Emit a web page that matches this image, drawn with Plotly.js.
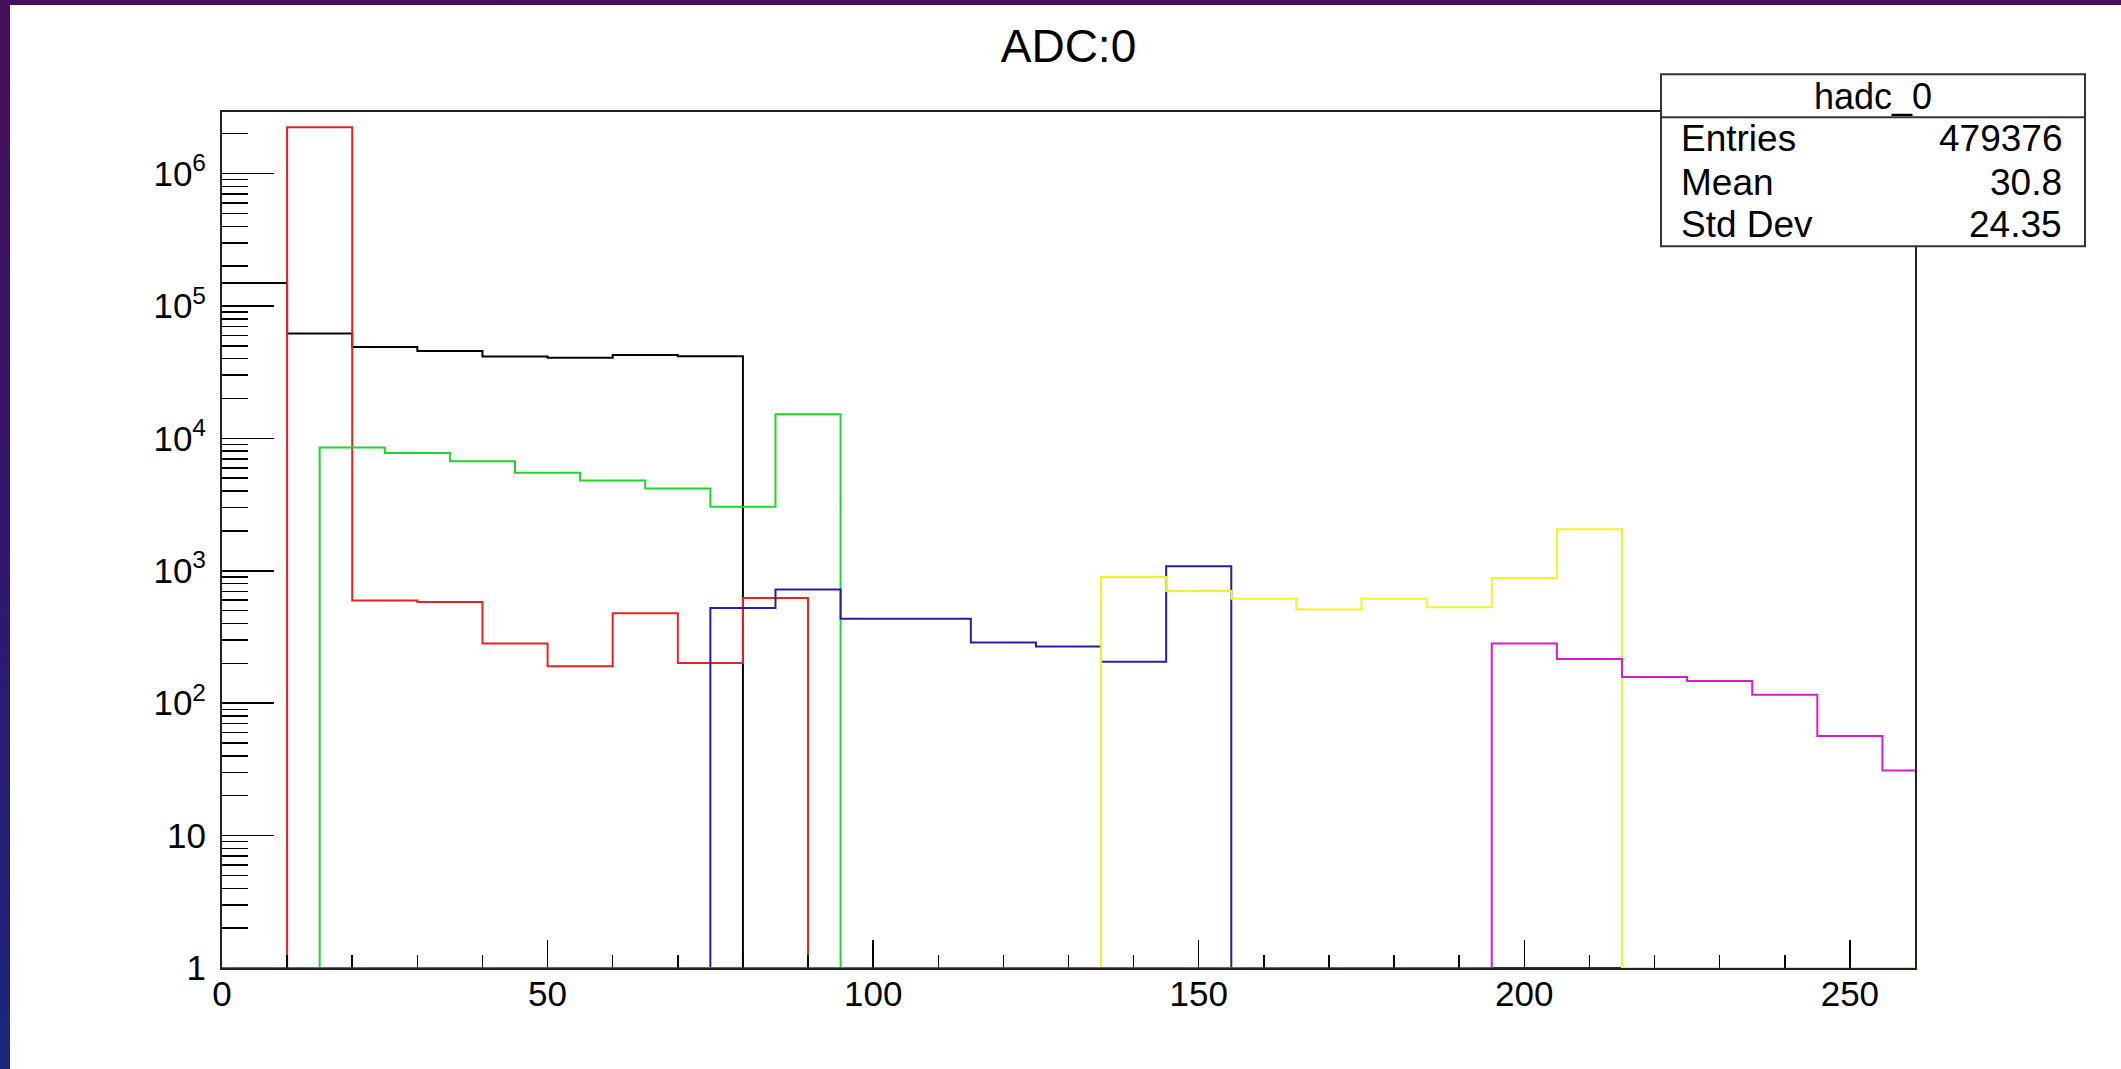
<!DOCTYPE html>
<html>
<head>
<meta charset="utf-8">
<script src="https://cdn.plot.ly/plotly-3.0.1.min.js"></script>
<style>
  html, body { margin: 0; padding: 0; }
  body {
    width: 2121px; height: 1069px; overflow: hidden; position: relative;
    background: linear-gradient(to bottom, #46105a 0%, #3a1466 35%, #2a1c72 65%, #1b2676 100%);
  }
  #chart { position: absolute; left: 10px; top: 5px; width: 2111px; height: 1064px; background: #ffffff; }
</style>
</head>
<body>
<div id="chart"></div>
<script>
// ---- data (bin edges and bin contents) ----
const blackEdges   = [0, 10, 20, 30, 40, 50, 60, 70, 80, 260];
const blackCounts  = [149000, 61900, 49000, 45700, 41500, 40700, 42700, 41700, 0];

const redEdges     = [0, 10, 20, 30, 40, 50, 60, 70, 80, 90, 260];
const redCounts    = [0, 2240000, 596, 582, 282, 190, 478, 201, 623, 0];

const greenEdges   = [0, 15, 25, 35, 45, 55, 65, 75, 85, 95, 260];
const greenCounts  = [0, 8520, 7760, 6710, 5510, 4800, 4180, 3050, 15200, 0];

const blueEdges    = [0, 75, 85, 95, 105, 115, 125, 135, 145, 155, 260];
const blueCounts   = [0, 524, 721, 435, 435, 287, 268, 206, 1082, 0];

const yellowEdges  = [0, 135, 145, 155, 165, 175, 185, 195, 205, 215, 260];
const yellowCounts = [0, 898, 704, 616, 509, 616, 530, 883, 2057, 0];

const magentaEdges  = [0, 195, 205, 215, 225, 235, 245, 255, 260];
const magentaCounts = [0, 282, 216, 158, 147, 116, 56.5, 31];

const xTickVals = [0, 50, 100, 150, 200, 250];
const yTickVals = [1, 10, 100, 1000, 10000, 100000, 1000000];
const yTickText = ['1', '10', '10<sup>2</sup>', '10<sup>3</sup>', '10<sup>4</sup>', '10<sup>5</sup>', '10<sup>6</sup>'];

const chartTitle = 'ADC:0';
const statsTitle = 'hadc_0';
const statNames  = ['Entries', 'Mean', 'Std Dev'];
const statValues = ['479376', '30.8', '24.35'];

// ---- build ----
const FONT = '"Liberation Sans", Arial, Helvetica, sans-serif';
const yMin = 1; // log-axis floor: empty bins sit on the frame bottom

function stepTrace(edges, counts, color) {
  const x = edges.slice();
  const y = counts.map(v => (v > 0 ? v : yMin));
  y.push(y[y.length - 1]);
  return {
    type: 'scatter', mode: 'lines', x: x, y: y,
    line: { shape: 'hv', color: color, width: 2 },
    hoverinfo: 'skip', showlegend: false
  };
}

const traces = [
  stepTrace(blackEdges, blackCounts, '#000000'),
  stepTrace(redEdges, redCounts, '#e0261e'),
  stepTrace(greenEdges, greenCounts, '#1fd62a'),
  stepTrace(blueEdges, blueCounts, '#2a1ca6'),
  stepTrace(yellowEdges, yellowCounts, '#f2f22a'),
  stepTrace(magentaEdges, magentaCounts, '#d21ed2')
];

// pixel helpers (full-image coordinates -> plot paper fraction)
const PL = 221.9, PW = 1693.1, PB = 967.7, PH = 856;
const px = X => (X - PL) / PW;
const py = Y => (PB - Y) / PH;

const boxL = 1661, boxR = 2085, boxT = 74, boxB = 246, boxDiv = 117;
const rowY = [138.5, 181.7, 224];

const annotations = [{
  xref: 'paper', yref: 'paper', x: px((boxL + boxR) / 2), y: py(96),
  text: statsTitle, showarrow: false, xanchor: 'center', yanchor: 'middle',
  font: { family: FONT, size: 36, color: '#000' }
}];
statNames.forEach((n, i) => {
  annotations.push({
    xref: 'paper', yref: 'paper', x: px(1679), y: py(rowY[i]),
    text: n, showarrow: false, xanchor: 'left', yanchor: 'middle',
    font: { family: FONT, size: 37, color: '#000' }
  });
  annotations.push({
    xref: 'paper', yref: 'paper', x: px(2064), y: py(rowY[i]),
    text: statValues[i], showarrow: false, xanchor: 'right', yanchor: 'middle',
    font: { family: FONT, size: 37, color: '#000' }
  });
});

const layout = {
  width: 2111, height: 1064,
  margin: { l: 212, r: 206, t: 107, b: 101, pad: 0 },
  paper_bgcolor: '#ffffff', plot_bgcolor: '#ffffff',
  showlegend: false,
  title: {
    text: chartTitle, x: 0.5, xref: 'paper', xanchor: 'center',
    y: 0.962, yref: 'container', yanchor: 'middle',
    font: { family: FONT, size: 46, color: '#000' }
  },
  xaxis: {
    range: [0, 260], type: 'linear',
    tickvals: xTickVals, ticktext: xTickVals.map(String),
    ticks: 'inside', ticklen: 28, tickwidth: 1.5, tickcolor: '#000',
    minor: { dtick: 10, tick0: 0, ticks: 'inside', ticklen: 13, tickwidth: 1.5, tickcolor: '#000', showgrid: false },
    showline: true, linecolor: '#222', linewidth: 2, mirror: true,
    showgrid: false, zeroline: false,
    ticklabelstandoff: -6,
    tickfont: { family: FONT, size: 35, color: '#000' }
  },
  yaxis: {
    type: 'log', range: [0, 6.465],
    tickvals: yTickVals, ticktext: yTickText,
    ticks: 'inside', ticklen: 52, tickwidth: 1.5, tickcolor: '#000',
    minor: { dtick: 'D1', ticks: 'inside', ticklen: 26, tickwidth: 1.5, tickcolor: '#000', showgrid: false },
    showline: true, linecolor: '#222', linewidth: 2, mirror: true,
    showgrid: false, zeroline: false,
    ticklabelstandoff: 7,
    tickfont: { family: FONT, size: 35, color: '#000' }
  },
  shapes: [
    { type: 'rect', xref: 'paper', yref: 'paper', x0: px(boxL), x1: px(boxR), y0: py(boxB), y1: py(boxT),
      fillcolor: '#ffffff', line: { color: '#333', width: 2 }, layer: 'above' },
    { type: 'line', xref: 'paper', yref: 'paper', x0: px(boxL), x1: px(boxR), y0: py(boxDiv), y1: py(boxDiv),
      line: { color: '#333', width: 2 }, layer: 'above' }
  ],
  annotations: annotations
};

Plotly.newPlot('chart', traces, layout, { displayModeBar: false, staticPlot: true });
</script>
</body>
</html>
